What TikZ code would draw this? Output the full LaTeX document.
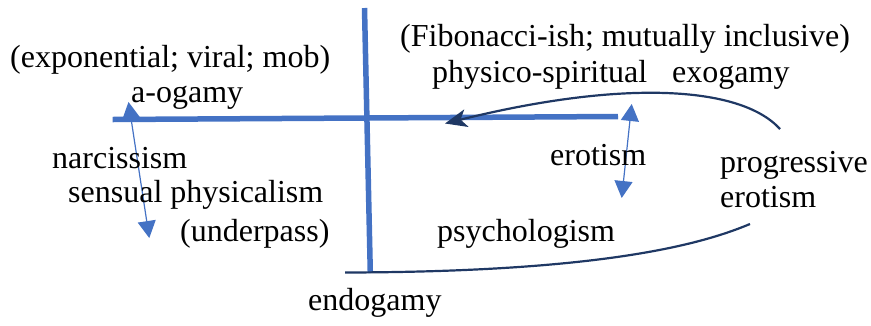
\documentclass[tikz,border=0pt]{standalone}
\usepackage{fontspec}
\setmainfont{Liberation Serif}
\usetikzlibrary{arrows.meta}
\definecolor{axisblue}{HTML}{4472C4}
\definecolor{navy}{HTML}{1F3864}
\begin{document}
\begin{tikzpicture}[x=1pt,y=-1pt,
  lbl/.style={anchor=base west,inner sep=0pt,font=\fontsize{32}{36}\selectfont},
  axis/.style={draw=axisblue,line width=5.5pt},
  thinarr/.style={draw=axisblue,line width=1.2pt,{Triangle[width=18pt,length=17pt]}-{Triangle[width=18pt,length=17pt]}},
  curve/.style={draw=navy,line width=2.2pt}]
\useasboundingbox (0,0) rectangle (871,325);
% coordinates
\coordinate (vtop) at (364.5,8);
\coordinate (vbot) at (370.3,273);
\coordinate (hl) at (112.7,119.5);
\coordinate (hr) at (618,116.5);
\coordinate (bstart) at (345,272.5);
\coordinate (bend) at (750,224);
\coordinate (tstart) at (780,129);
\coordinate (tend) at (445,123.5);
\coordinate (la) at (128.5,102);
\coordinate (lb) at (149.3,238);
\coordinate (ra) at (631.7,104);
\coordinate (rb) at (621.7,198);
% axes
\draw[axis] (vtop) -- (vbot);
\draw[axis] (hl) -- (hr);
% curves
\draw[curve] (bstart) .. controls (600,272) and (700,245) .. (bend);
\draw[curve,-{Stealth[length=22pt,width=18pt,inset=6pt]}] (tstart) .. controls (740,85) and (620,80) .. (tend);
% thin arrows
\draw[thinarr] (la) -- (lb);
\draw[thinarr] (ra) -- (rb);
% labels
\node[lbl] (expo) at (10,67) {(exponential; viral; mob)};
\node[lbl] (aog) at (131,102) {a-ogamy};
\node[lbl] (fib) at (400,46) {(Fibonacci-ish; mutually inclusive)};
\node[lbl] (phys) at (432,82) {physico-spiritual};
\node[lbl] (exo) at (672,82) {exogamy};
\node[lbl] (narc) at (52,168) {narcissism};
\node[lbl] (sens) at (68,202) {sensual physicalism};
\node[lbl] (under) at (180,241) {(underpass)};
\node[lbl] (ero) at (550,165) {erotism};
\node[lbl] (prog) at (720,172) {progressive};
\node[lbl] (ero2) at (720,207) {erotism};
\node[lbl] (psy) at (437,241) {psychologism};
\node[lbl] (endo) at (308,310) {endogamy};
\end{tikzpicture}
\end{document}
